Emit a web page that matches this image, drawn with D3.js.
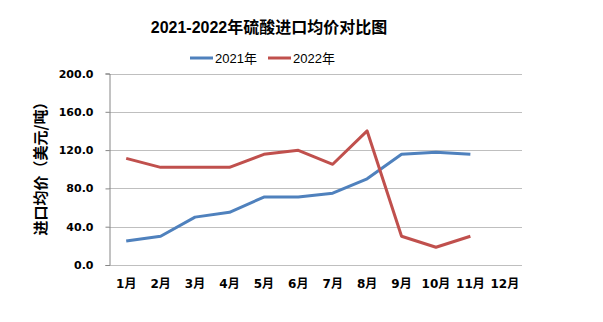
<!DOCTYPE html>
<html><head><meta charset="utf-8">
<script src="https://cdn.jsdelivr.net/npm/d3@7"></script>
<style>body{margin:0;background:#fff}svg{display:block}</style>
</head><body><svg id="c" width="603" height="322"></svg>
<script>
const months = ["1月","2月","3月","4月","5月","6月","7月","8月","9月","10月","11月","12月"];
const s2021 = [25, 30, 50, 55, 71, 71, 75, 90, 115.6, 117.7, 115.6];
const s2022 = [111.4, 102, 102, 102, 115.6, 119.8, 105.2, 140, 30, 18.5, 30];
const yTicks = [0, 40, 80, 120, 160, 200];
const seriesNames = ["2021年", "2022年"];
const colors = ["#4F81BD", "#C0504D"];

const svg = d3.select("#c");
const m = {l:109, r:522, t:73.5, b:265};
const x = d3.scaleBand().domain(months).range([m.l, m.r]);
const y = d3.scaleLinear().domain([0, 200]).range([m.b, m.t]);
const cjk = "'Noto Sans CJK SC', sans-serif";
const num = "'DejaVu Sans', 'Noto Sans CJK SC', sans-serif";

// gridlines
svg.append("g").selectAll("line").data(yTicks).join("line")
  .attr("x1", m.l).attr("x2", m.r)
  .attr("y1", d => Math.round(y(d))+0.5).attr("y2", d => Math.round(y(d))+0.5)
  .attr("stroke", "#BFBFBF").attr("stroke-width", 1);

// y axis
const ya = d3.axisLeft(y).tickValues(yTicks).tickFormat(d3.format(".1f")).tickSize(4).tickPadding(12);
const yg = svg.append("g").attr("transform", `translate(${m.l+0.5},0)`).call(ya);
yg.select(".domain").attr("stroke", "#868686");
yg.selectAll(".tick line").attr("stroke", "#868686");
yg.selectAll("text").attr("font-family", num).attr("font-weight", "bold").attr("font-size", 11).attr("fill", "#000");

// x axis labels
const xa = d3.axisBottom(x).tickSize(0).tickPadding(14);
const xg = svg.append("g").attr("transform", `translate(0,${m.b})`).call(xa);
xg.select(".domain").remove();
xg.selectAll("text").attr("font-family", num).attr("font-weight", "bold").attr("font-size", 12).attr("fill", "#000");

// lines
const line = d3.line().x((d,i) => x(months[i]) + x.bandwidth()/2).y(d => y(d));
[s2021, s2022].forEach((s, k) => {
  svg.append("path").datum(s).attr("d", line).attr("fill", "none")
    .attr("stroke", colors[k]).attr("stroke-width", 3).attr("stroke-linejoin", "round");
});

// title
svg.append("text").attr("x", 269).attr("y", 33).attr("text-anchor", "middle")
  .attr("font-family", "'Liberation Sans', 'Noto Sans CJK SC', sans-serif").attr("font-weight", "bold").attr("font-size", 16)
  .text("2021-2022年硫酸进口均价对比图");

// legend
const lg = svg.append("g");
const lx = [190, 268];
seriesNames.forEach((n, k) => {
  lg.append("line").attr("x1", lx[k]).attr("x2", lx[k]+23).attr("y1", 58).attr("y2", 58)
    .attr("stroke", colors[k]).attr("stroke-width", 3);
  lg.append("text").attr("x", lx[k]+25).attr("y", 62.5)
    .attr("font-family", "'Liberation Sans', 'Noto Sans CJK SC', sans-serif").attr("font-size", 13).text(n);
});

// y title
svg.append("text").attr("transform", "translate(46,165) rotate(-90)").attr("text-anchor", "middle")
  .attr("font-family", cjk).attr("font-weight", "bold").attr("font-size", 15)
  .text("进口均价（美元/吨）");
</script></body></html>
